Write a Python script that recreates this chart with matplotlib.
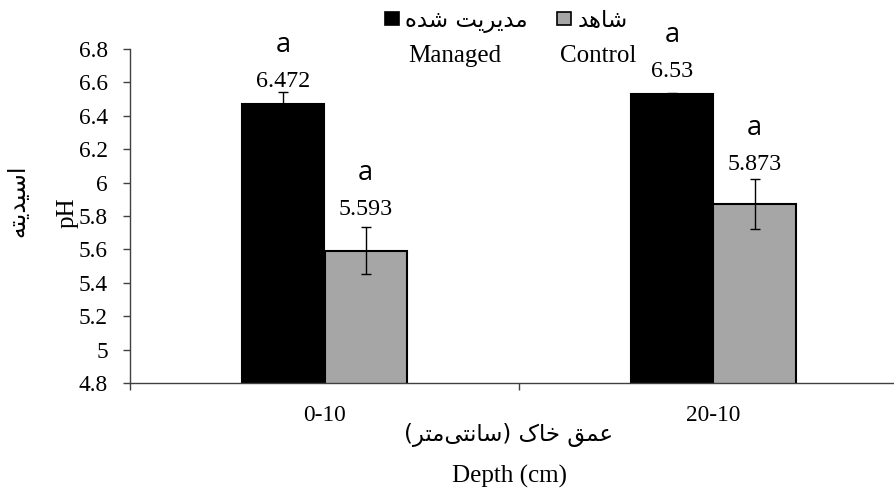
import numpy as np
import matplotlib
matplotlib.use("Agg")
import matplotlib.pyplot as plt
from matplotlib.patches import Rectangle

# داده‌ها
depths = ['0-10', '20-10']
managed = [6.472, 6.53]
control = [5.593, 5.873]
managed_err = [0.07, 0.005]
control_err = [0.14, 0.15]
managed_letters = ['a', 'a']
control_letters = ['a', 'a']
y_ticks = [4.8, 5.0, 5.2, 5.4, 5.6, 5.8, 6.0, 6.2, 6.4, 6.6, 6.8]

label_managed_fa = 'مدیریت شده'
label_control_fa = 'شاهد'
ylabel_fa = 'اسیدیته'
xlabel_fa = 'عمق خاک (سانتی\u200cمتر)'

# شکل‌دهی ساده حروف فارسی (matplotlib خودش اتصال حروف را انجام نمی‌دهد)
FORMS = {
    'ا': ('\uFE8D', '\uFE8E'),
    'د': ('\uFEA9', '\uFEAA'),
    'ر': ('\uFEAD', '\uFEAE'),
    'ت': ('\uFE95', '\uFE96', '\uFE97', '\uFE98'),
    'ش': ('\uFEB5', '\uFEB6', '\uFEB7', '\uFEB8'),
    'س': ('\uFEB1', '\uFEB2', '\uFEB3', '\uFEB4'),
    'ه': ('\uFEE9', '\uFEEA', '\uFEEB', '\uFEEC'),
    'م': ('\uFEE1', '\uFEE2', '\uFEE3', '\uFEE4'),
    'خ': ('\uFEA5', '\uFEA6', '\uFEA7', '\uFEA8'),
    'ق': ('\uFED5', '\uFED6', '\uFED7', '\uFED8'),
    'ع': ('\uFEC9', '\uFECA', '\uFECB', '\uFECC'),
    'ن': ('\uFEE5', '\uFEE6', '\uFEE7', '\uFEE8'),
    'ک': ('\uFB8E', '\uFB8F', '\uFB90', '\uFB91'),
    'ی': ('\uFBFC', '\uFBFD', '\uFBFE', '\uFBFF'),
}


def shape_fa(text):
    """اتصال حروف و برگرداندن ترتیب برای نمایش راست به چپ"""
    out = []
    for i, ch in enumerate(text):
        forms = FORMS.get(ch)
        if forms is None:
            if ch != '\u200c':
                out.append(ch)
            continue
        prev = text[i - 1] if i > 0 else ''
        nxt = text[i + 1] if i + 1 < len(text) else ''
        join_prev = len(FORMS.get(prev, ())) == 4
        join_next = len(forms) == 4 and nxt in FORMS
        if join_prev and join_next:
            out.append(forms[3])
        elif join_prev:
            out.append(forms[1])
        elif join_next:
            out.append(forms[2])
        else:
            out.append(forms[0])
    vis = ''.join(reversed(out))
    return vis.translate(str.maketrans('()', ')('))


SERIF = ['Liberation Serif', 'DejaVu Serif']
FA = ['DejaVu Sans']
W, H = 895, 488

fig = plt.figure(figsize=(W / 100, H / 100), dpi=100)
ax = fig.add_axes([130 / W, 105 / H, 778 / W, 334 / H])

x = np.arange(len(depths)) + 0.5
bw = 0.212
black = '#000000'
gray = '#A6A6A6'

ax.bar(x - bw / 2, managed, bw, color=black, edgecolor=black, linewidth=1.5, zorder=2)
ax.bar(x + bw / 2, control, bw, color=gray, edgecolor=black, linewidth=1.5, zorder=2)
ax.errorbar(x - bw / 2, managed, yerr=managed_err, fmt='none', ecolor='black',
            elinewidth=1, capsize=3.6, capthick=1, zorder=3)
ax.errorbar(x + bw / 2, control, yerr=control_err, fmt='none', ecolor='black',
            elinewidth=1, capsize=3.6, capthick=1, zorder=3)

# برچسب مقدار و حرف معنی‌داری
pads = [[5, 16], [12, 9]]  # فاصله برچسب از بالای خطای هر ستون (پیکسل)
for j, (vals, errs, letters, off) in enumerate([
        (managed, managed_err, managed_letters, -bw / 2),
        (control, control_err, control_letters, bw / 2)]):
    for i in range(len(depths)):
        top = vals[i] + errs[i]
        p = pads[j][i]
        ax.annotate(f'{vals[i]:g}', xy=(x[i] + off, top), xytext=(0, p * 0.72),
                    textcoords='offset points', ha='center', va='baseline',
                    fontsize=17.3, family=SERIF)
        ax.annotate(letters[i], xy=(x[i] + off, top), xytext=(0, (p + 35) * 0.72),
                    textcoords='offset points', ha='center', va='baseline',
                    fontsize=19.5, family=['Open Sans', 'DejaVu Sans'])

ax.set_xlim(0, 2)
ax.set_ylim(4.8, 6.8)
ax.set_yticks(y_ticks)
ax.set_yticklabels([f'{round(v, 1):g}' for v in y_ticks], family=SERIF, fontsize=16.8)
ax.set_xticks([0, 1, 2])
ax.set_xticklabels(['', '', ''])
ax.set_xticks(x, minor=True)
ax.set_xticklabels(depths, minor=True, family=SERIF, fontsize=16.8)
ax.tick_params(axis='y', direction='out', length=5, width=1, color='#404040', pad=11)
ax.tick_params(axis='x', which='major', direction='out', length=5, width=1, color='#404040')
ax.tick_params(axis='x', which='minor', length=0, pad=16)

for s in ['top', 'right']:
    ax.spines[s].set_visible(False)
for s in ['left', 'bottom']:
    ax.spines[s].set_color('#404040')
    ax.spines[s].set_linewidth(1)


def px(xp, yp):
    return xp / W, 1 - yp / H


# برچسب محورها
fig.text(*px(68, 213), 'pH', rotation=90, ha='center', va='center',
         family=SERIF, fontsize=18)
fig.text(*px(17, 201), shape_fa(ylabel_fa), rotation=90, ha='center', va='center',
         family=FA, fontsize=17)
fig.text(*px(509, 435), shape_fa(xlabel_fa), ha='center', va='center',
         family=FA, fontsize=16.4)
fig.text(*px(510, 476), 'Depth (cm)', ha='center', va='center',
         family=SERIF, fontsize=18)

# راهنما
for (x0, col) in [(385, black), (557, gray)]:
    fig.patches.append(Rectangle(px(x0, 25), 14 / W, 13 / H, transform=fig.transFigure,
                                 facecolor=col, edgecolor='black', linewidth=1.2))
fig.text(*px(405, 27), shape_fa(label_managed_fa), ha='left', va='baseline',
         family=FA, fontsize=16.5)
fig.text(*px(578, 27), shape_fa(label_control_fa), ha='left', va='baseline',
         family=FA, fontsize=16.5)
fig.text(*px(408, 62), 'Managed', ha='left', va='baseline', family=SERIF, fontsize=18)
fig.text(*px(560, 62), 'Control', ha='left', va='baseline', family=SERIF, fontsize=18)

fig.savefig('out.png', dpi=100)
